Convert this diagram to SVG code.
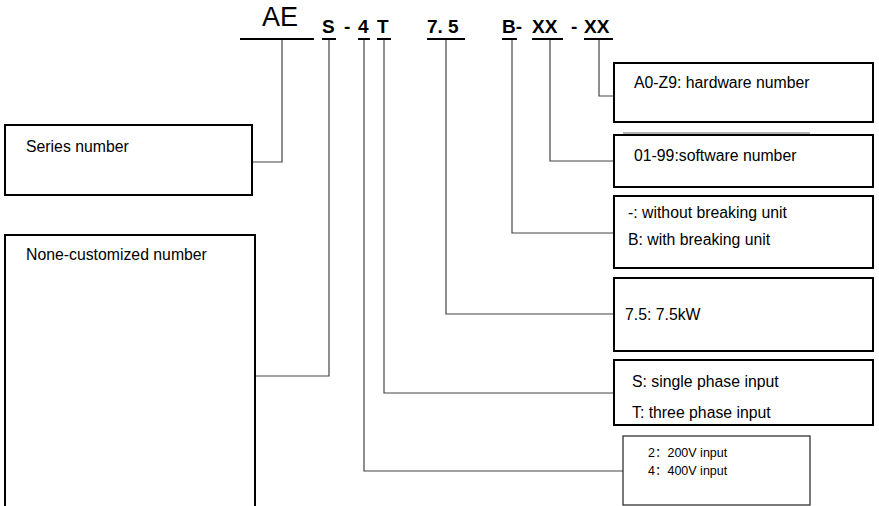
<svg xmlns="http://www.w3.org/2000/svg" width="879" height="506" viewBox="0 0 879 506">
<style>
.box{fill:#fff;stroke:#000;stroke-width:2}
.box2{fill:#fff;stroke:#222;stroke-width:1.2}
.t{font-family:"Liberation Sans",Arial,sans-serif;font-size:15.8px;fill:#000}
.ts{font-family:"Liberation Sans","Noto Sans CJK SC",sans-serif;font-size:12.5px;fill:#000}
.hd{font-family:"Liberation Sans",Arial,sans-serif;font-size:19px;font-weight:bold;fill:#000}
.ul{stroke:#000;stroke-width:2}
.con{fill:none;stroke:#444;stroke-width:1.2}
</style>
<rect width="879" height="506" fill="#fff"/>
<g id="code">
<text x="262" y="26" font-family="Liberation Sans,Arial,sans-serif" font-size="27">AE</text>
<text class="hd" x="322" y="33">S</text>
<text class="hd" x="344" y="33">-</text>
<text class="hd" x="358" y="33">4</text>
<text class="hd" x="377" y="33">T</text>
<text class="hd" x="427" y="33">7. 5</text>
<text class="hd" x="502" y="33">B-</text>
<text class="hd" x="532" y="33">XX</text>
<text class="hd" x="571" y="33">-</text>
<text class="hd" x="584" y="33">XX</text>
<line class="ul" x1="240" y1="39" x2="314" y2="39"/>
<line class="ul" x1="322" y1="39" x2="336" y2="39"/>
<line class="ul" x1="358" y1="39" x2="370" y2="39"/>
<line class="ul" x1="377" y1="39" x2="391" y2="39"/>
<line class="ul" x1="427" y1="39" x2="465" y2="39"/>
<line class="ul" x1="502" y1="39" x2="517" y2="39"/>
<line class="ul" x1="532" y1="39" x2="563" y2="39"/>
<line class="ul" x1="584" y1="39" x2="613" y2="39"/>
</g>
<g id="connectors">
<polyline class="con" points="282,40 282,162 252,162"/>
<polyline class="con" points="329,40 329,376 255,376"/>
<polyline class="con" points="364,40 364,471 623,471"/>
<polyline class="con" points="384,40 384,393 614,393"/>
<polyline class="con" points="446,40 446,314 614,314"/>
<polyline class="con" points="512,40 512,233 614,233"/>
<polyline class="con" points="550,40 550,161 614,161"/>
<polyline class="con" points="599,40 599,96 614,96"/>
</g>
<g id="series">
<rect class="box" x="5" y="125" width="247" height="70"/>
<text class="t" x="26" y="152">Series number</text>
</g>
<g id="none-customized">
<rect class="box" x="5" y="235" width="250" height="290"/>
<text class="t" x="26" y="260">None-customized number</text>
</g>
<g id="hardware">
<rect class="box" x="614" y="63" width="259" height="59"/>
<text class="t" x="634" y="88">A0-Z9: hardware number</text>
</g>
<line x1="623" y1="133" x2="810" y2="133" stroke="#666" stroke-width="1.2"/>
<g id="software">
<rect class="box" x="614" y="135" width="259" height="52"/>
<text class="t" x="634" y="161">01-99:software number</text>
</g>
<g id="braking">
<rect class="box" x="614" y="196" width="259" height="72"/>
<text class="t" x="628" y="218">-: without breaking unit</text>
<text class="t" x="628" y="245">B: with breaking unit</text>
</g>
<g id="power">
<rect class="box" x="614" y="278" width="259" height="73"/>
<text class="t" x="625" y="320">7.5: 7.5kW</text>
</g>
<g id="phase">
<rect class="box" x="614" y="360" width="259" height="65"/>
<text class="t" x="632" y="387">S: single phase input</text>
<text class="t" x="632" y="418">T: three phase input</text>
</g>
<g id="voltage">
<rect class="box2" x="623" y="436" width="187" height="69"/>
<text class="ts" x="648" y="457">2：200V input</text>
<text class="ts" x="648" y="475">4：400V input</text>
</g>
</svg>
